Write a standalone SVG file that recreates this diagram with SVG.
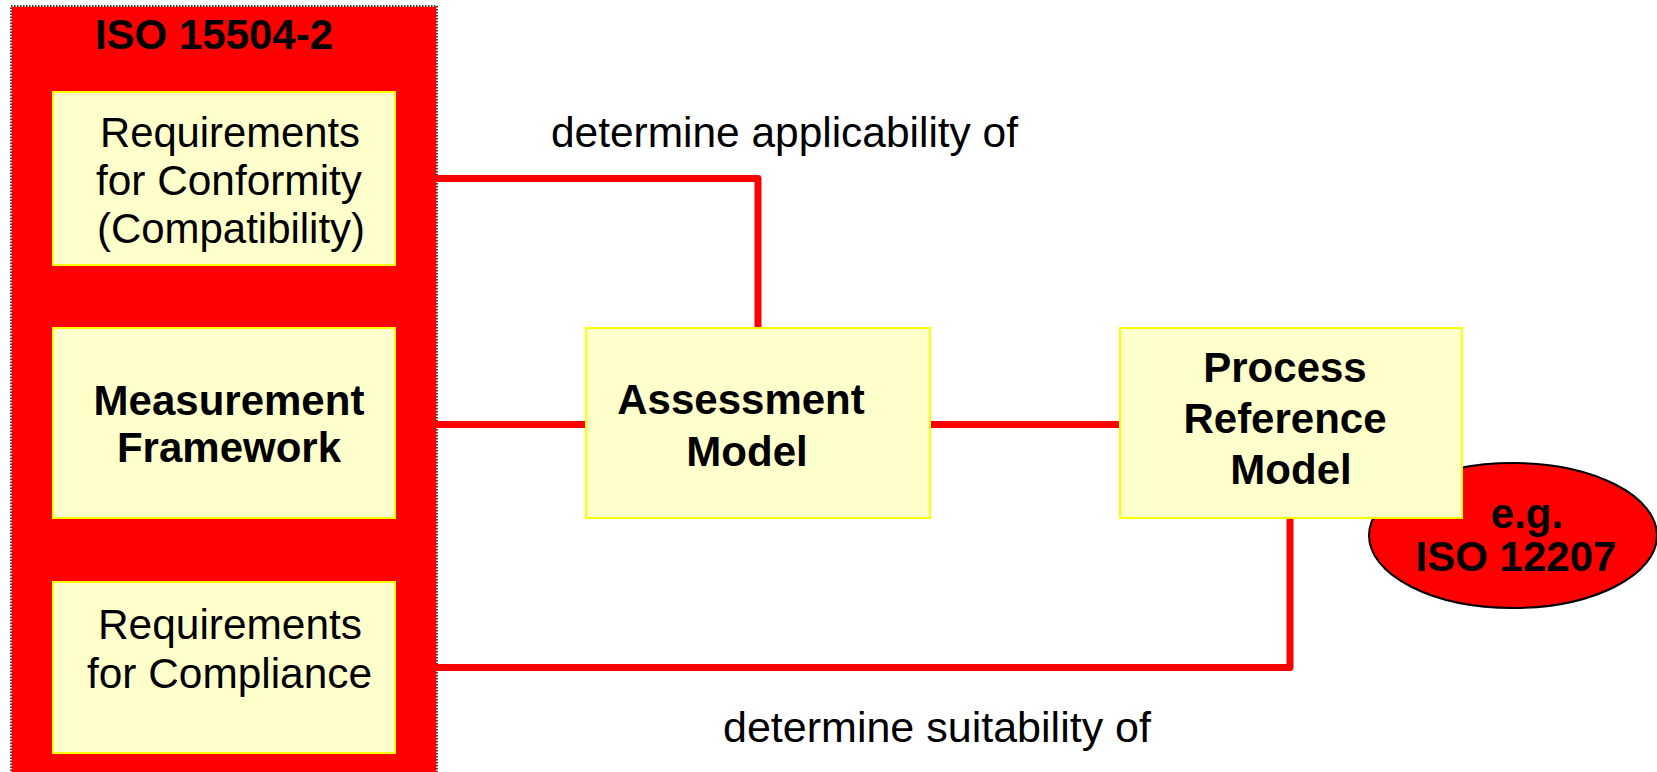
<svg xmlns="http://www.w3.org/2000/svg" width="1657" height="772" viewBox="0 0 1657 772">
  <style>
    .box { fill: #FFFFCC; stroke: #FFFF00; stroke-width: 2; }
    .reg { font-family: "Liberation Sans", Arial, sans-serif; font-size: 42px; fill: #000; }
    .bold { font-family: "Liberation Sans", Arial, sans-serif; font-size: 42px; font-weight: bold; fill: #000; text-anchor: middle; }
    .wire { fill: none; stroke: #FF0000; stroke-width: 7; stroke-linejoin: round; }
  </style>

  <rect x="0" y="0" width="1657" height="772" fill="#FFFFFF"/>

  <!-- ISO 15504-2 container -->
  <g id="iso15504">
    <rect x="11" y="6" width="426" height="780" fill="#FF0000" stroke="#FFFFFF" stroke-width="1.5"/>
    <rect x="11" y="6" width="426" height="780" fill="none" stroke="#000000" stroke-width="1.5" stroke-dasharray="1.5 1.5"/>
    <text class="bold" x="214" y="49">ISO 15504-2</text>
  </g>

  <!-- connectors -->
  <g id="connectors">
    <path class="wire" d="M395 178.5 H758 V328"/>
    <path class="wire" d="M395 424.5 H586"/>
    <path class="wire" d="M930 424.5 H1120"/>
    <path class="wire" d="M395 667.5 H1290 V518"/>
  </g>

  <g id="req-conformity">
    <rect class="box" x="53" y="92" width="342" height="173"/>
    <text class="reg" x="100" y="147" textLength="260" lengthAdjust="spacingAndGlyphs">Requirements</text>
    <text class="reg" x="96" y="195" textLength="266" lengthAdjust="spacingAndGlyphs">for Conformity</text>
    <text class="reg" x="97" y="243" textLength="268" lengthAdjust="spacingAndGlyphs">(Compatibility)</text>
  </g>

  <g id="measurement-framework">
    <rect class="box" x="53" y="328" width="342" height="190"/>
    <text class="bold" x="229" y="415">Measurement</text>
    <text class="bold" x="229" y="462">Framework</text>
  </g>

  <g id="req-compliance">
    <rect class="box" x="53" y="582" width="342" height="171"/>
    <text class="reg" x="98" y="639" textLength="264" lengthAdjust="spacingAndGlyphs">Requirements</text>
    <text class="reg" x="87" y="688" textLength="285" lengthAdjust="spacingAndGlyphs">for Compliance</text>
  </g>

  <g id="assessment-model">
    <rect class="box" x="586" y="328" width="344" height="190"/>
    <text class="bold" x="741" y="414">Assessment</text>
    <text class="bold" x="747" y="466">Model</text>
  </g>

  <g id="example-standard">
    <ellipse cx="1513" cy="535.5" rx="144" ry="72.5" fill="#FF0000" stroke="#000000" stroke-width="2"/>
    <text class="bold" x="1527" y="528">e.g.</text>
    <text class="bold" x="1516" y="571">ISO 12207</text>
  </g>

  <g id="process-reference-model">
    <rect class="box" x="1120" y="328" width="342" height="190"/>
    <text class="bold" x="1285" y="382">Process</text>
    <text class="bold" x="1285" y="433">Reference</text>
    <text class="bold" x="1291" y="484">Model</text>
  </g>

  <g id="labels">
    <text class="reg" x="551" y="147" textLength="467" lengthAdjust="spacingAndGlyphs">determine applicability of</text>
    <text class="reg" x="723" y="742" textLength="428" lengthAdjust="spacingAndGlyphs">determine suitability of</text>
  </g>
</svg>
